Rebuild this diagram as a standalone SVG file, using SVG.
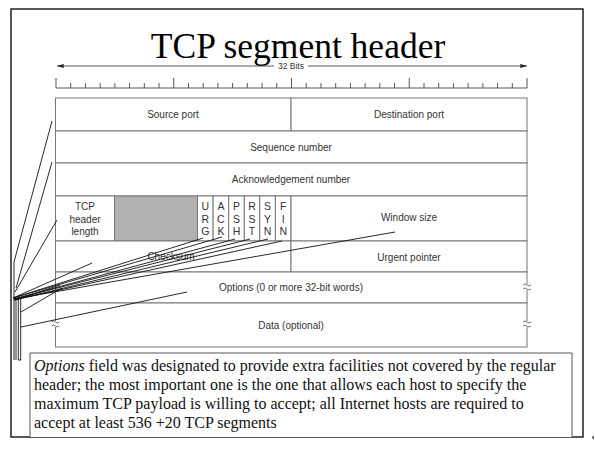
<svg xmlns="http://www.w3.org/2000/svg" width="595" height="449" viewBox="0 0 595 449">
<defs>
<marker id="ah" viewBox="0 0 10 6" refX="10" refY="3" markerWidth="7" markerHeight="4" orient="auto-start-reverse" markerUnits="userSpaceOnUse"><path d="M0,0 L10,3 L0,6 Z" fill="#222"/></marker>
</defs>
<style>
.cell{fill:#fff;stroke:#777;stroke-width:1}
.lbl{font-family:"Liberation Sans",Arial,sans-serif;font-size:10px;fill:#333;text-anchor:middle}
.flg{font-family:"Liberation Sans",Arial,sans-serif;font-size:10.5px;fill:#333;text-anchor:middle}
.tick{stroke:#555;stroke-width:1}
.lead{stroke:#111;stroke-width:0.9;fill:none}
.brk{stroke:#666;stroke-width:0.9;fill:none}
.note{font-family:"Liberation Serif","Times New Roman",serif;font-size:16px;fill:#111}
</style>
<rect x="0" y="0" width="595" height="449" fill="#fff"/>
<rect x="11" y="9" width="572" height="428" fill="none" stroke="#111" stroke-width="1.4"/>
<text x="298" y="57.5" font-family="Liberation Serif,'Times New Roman',serif" font-size="35.5" text-anchor="middle" fill="#000">TCP segment header</text>

<g id="bits">
<line x1="57" y1="66" x2="527" y2="66" stroke="#444" stroke-width="0.9" marker-start="url(#ah)" marker-end="url(#ah)"/>
<rect x="274" y="60" width="34" height="11" fill="#fff"/>
<text x="291" y="69" font-family="Liberation Sans,Arial,sans-serif" font-size="8.5" text-anchor="middle" fill="#333">32 Bits</text>
<line x1="56" y1="88" x2="527" y2="88" class="tick"/>
<path class="tick" d="M56,78V88 M173.75,78V88 M291.5,78V88 M409.25,78V88 M527,78V88
M70.7,83V88 M85.4,83V88 M100.2,83V88 M114.9,83V88 M129.6,83V88 M144.3,83V88 M159,83V88
M188.5,83V88 M203.2,83V88 M217.9,83V88 M232.6,83V88 M247.3,83V88 M262.1,83V88 M276.8,83V88
M306.2,83V88 M321,83V88 M335.7,83V88 M350.4,83V88 M365.1,83V88 M379.8,83V88 M394.5,83V88
M424,83V88 M438.7,83V88 M453.4,83V88 M468.1,83V88 M482.9,83V88 M497.6,83V88 M512.3,83V88"/>
</g>

<g id="source-port"><rect class="cell" x="55.5" y="98" width="235.5" height="33"/><text class="lbl" x="173" y="118">Source port</text></g>
<g id="destination-port"><rect class="cell" x="291" y="98" width="236" height="33"/><text class="lbl" x="409" y="118">Destination port</text></g>
<g id="sequence-number"><rect class="cell" x="55.5" y="131" width="471.5" height="32"/><text class="lbl" x="291" y="151">Sequence number</text></g>
<g id="ack-number"><rect class="cell" x="55.5" y="163" width="471.5" height="33"/><text class="lbl" x="291" y="183">Acknowledgement number</text></g>
<g id="header-length"><rect class="cell" x="55.5" y="196" width="59" height="45"/>
<text class="lbl" x="85" y="209.5">TCP</text><text class="lbl" x="85" y="222.5">header</text><text class="lbl" x="85" y="235">length</text></g>
<g id="reserved"><rect x="114.5" y="196" width="83" height="45" fill="#b0b0b0" stroke="#777"/></g>
<g id="flag-urg"><rect class="cell" x="197.5" y="196" width="15.6" height="45"/><text class="flg" x="205.3" y="209.5">U</text><text class="flg" x="205.3" y="222.5">R</text><text class="flg" x="205.3" y="235">G</text></g>
<g id="flag-ack"><rect class="cell" x="213.1" y="196" width="15.6" height="45"/><text class="flg" x="220.9" y="209.5">A</text><text class="flg" x="220.9" y="222.5">C</text><text class="flg" x="220.9" y="235">K</text></g>
<g id="flag-psh"><rect class="cell" x="228.7" y="196" width="15.6" height="45"/><text class="flg" x="236.5" y="209.5">P</text><text class="flg" x="236.5" y="222.5">S</text><text class="flg" x="236.5" y="235">H</text></g>
<g id="flag-rst"><rect class="cell" x="244.3" y="196" width="15.5" height="45"/><text class="flg" x="252" y="209.5">R</text><text class="flg" x="252" y="222.5">S</text><text class="flg" x="252" y="235">T</text></g>
<g id="flag-syn"><rect class="cell" x="259.8" y="196" width="15.6" height="45"/><text class="flg" x="267.6" y="209.5">S</text><text class="flg" x="267.6" y="222.5">Y</text><text class="flg" x="267.6" y="235">N</text></g>
<g id="flag-fin"><rect class="cell" x="275.4" y="196" width="15.6" height="45"/><text class="flg" x="283.2" y="209.5">F</text><text class="flg" x="283.2" y="222.5">I</text><text class="flg" x="283.2" y="235">N</text></g>
<g id="window-size"><rect class="cell" x="291" y="196" width="236" height="45"/><text class="lbl" x="409" y="221">Window size</text></g>
<g id="checksum"><rect class="cell" x="55.5" y="241" width="235.5" height="31"/><text class="lbl" x="171" y="260">Checksum</text></g>
<g id="urgent-pointer"><rect class="cell" x="291" y="241" width="236" height="31"/><text class="lbl" x="409" y="260.5">Urgent pointer</text></g>
<g id="options"><rect class="cell" x="55.5" y="272" width="471.5" height="31"/><text class="lbl" x="291" y="291">Options (0 or more 32-bit words)</text>
<rect x="524" y="284" width="6" height="6" fill="#fff"/>
<path class="brk" d="M523,285 q2,-2 4,0 t4,0 M523,289 q2,-2 4,0 t4,0"/></g>
<g id="data"><rect class="cell" x="55.5" y="303" width="471.5" height="44"/><text class="lbl" x="291" y="328.5">Data (optional)</text>
<rect x="524" y="321" width="6" height="6" fill="#fff"/>
<path class="brk" d="M523,322 q2,-2 4,0 t4,0 M523,326 q2,-2 4,0 t4,0"/>
<rect x="52.5" y="321" width="6" height="6" fill="#fff"/>
<path class="brk" d="M51.5,322 q2,-2 4,0 t4,0 M51.5,326 q2,-2 4,0 t4,0"/></g>

<g id="connectors">
<path class="lead" d="M52,121 L14,262 L14,298"/>
<path class="lead" d="M52,162 L16,288"/>
<path class="lead" d="M57,220 L15,292"/>
<path class="lead" d="M13,298 L203,238 M13,298 L222,237 M14,299 L235,239 M14,299 L250,239 M14,300 L268,239 M14,300 L282,241 M14,299 L395,232 M13,298 L92,263 M15,300 L60,285"/>
<path class="lead" d="M21,312 L62,288"/>
<path class="lead" d="M21,327 L187,292"/>
<path class="lead" d="M14,298V360 M16,298V360 M18.3,298V360 M20.7,298V360 M18.3,360H21"/>
</g>

<g id="note">
<path d="M30,437 V353 H572 V437" fill="#fff" stroke="#555" stroke-width="1"/>
<text class="note" x="34" y="371"><tspan font-style="italic">Options</tspan> field was designated to provide extra facilities not covered by the regular</text>
<text class="note" x="34" y="390">header; the most important one is the one that allows each host to specify the</text>
<text class="note" x="34" y="409">maximum TCP payload is willing to accept; all Internet hosts are required to</text>
<text class="note" x="34" y="427.5">accept at least 536 +20 TCP segments</text>
</g>
<rect x="592.5" y="436" width="1.2" height="3" fill="#222"/>
</svg>
